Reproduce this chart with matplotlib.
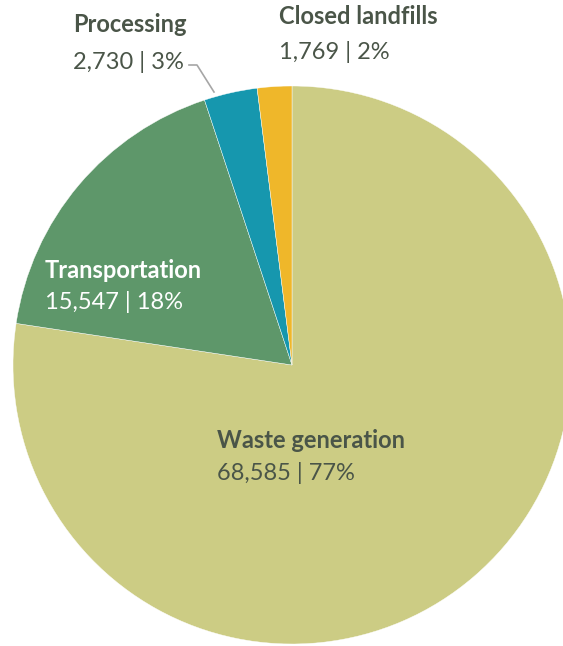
import matplotlib.pyplot as plt

# Emissions by stage
labels = ["Waste generation", "Transportation", "Processing", "Closed landfills"]
values = [68585, 15547, 2730, 1769]
shares = ["77%", "18%", "3%", "2%"]
colors = ["#CCCC84", "#5E976A", "#1697AE", "#EFB72A"]

plt.rcParams['font.family'] = ['Lato', 'DejaVu Sans']

W, H = 563, 646
fig = plt.figure(figsize=(W / 100, H / 100), dpi=100)
ax = fig.add_axes([0, 0, 1, 1])
ax.set_xlim(0, W)
ax.set_ylim(0, H)
ax.set_aspect("equal")
ax.axis("off")

cx, cy, r = 292, H - 365, 279
ax.pie(values, colors=colors, startangle=90, counterclock=False,
       center=(cx, cy), radius=r, frame=True,
       wedgeprops=dict(edgecolor="white", linewidth=0.3))
ax.set_xlim(0, W)
ax.set_ylim(0, H)
ax.axis("off")

dark = "#4A5548"
# label positions: (x, y of name line, y of value line, colour)
pos = [(217, 440, 473, dark), (45, 270, 302, "white"),
       (73, 24, 62, dark), (279, 17, 52, dark)]
for (x, y1, y2, c), lab, v, s in zip(pos, labels, values, shares):
    ax.text(x, H - y1, lab, fontsize=17, fontweight="bold", color=c,
            va="center", ha="left")
    ax.text(x, H - y2, f"{v:,} | {s}", fontsize=17, color=c,
            va="center", ha="left")

# leader line for Processing
ax.plot([189, 197, 214], [H - 65, H - 65, H - 92], color="#A6A6A6", lw=1.2)

fig.savefig("out.png", dpi=100)
